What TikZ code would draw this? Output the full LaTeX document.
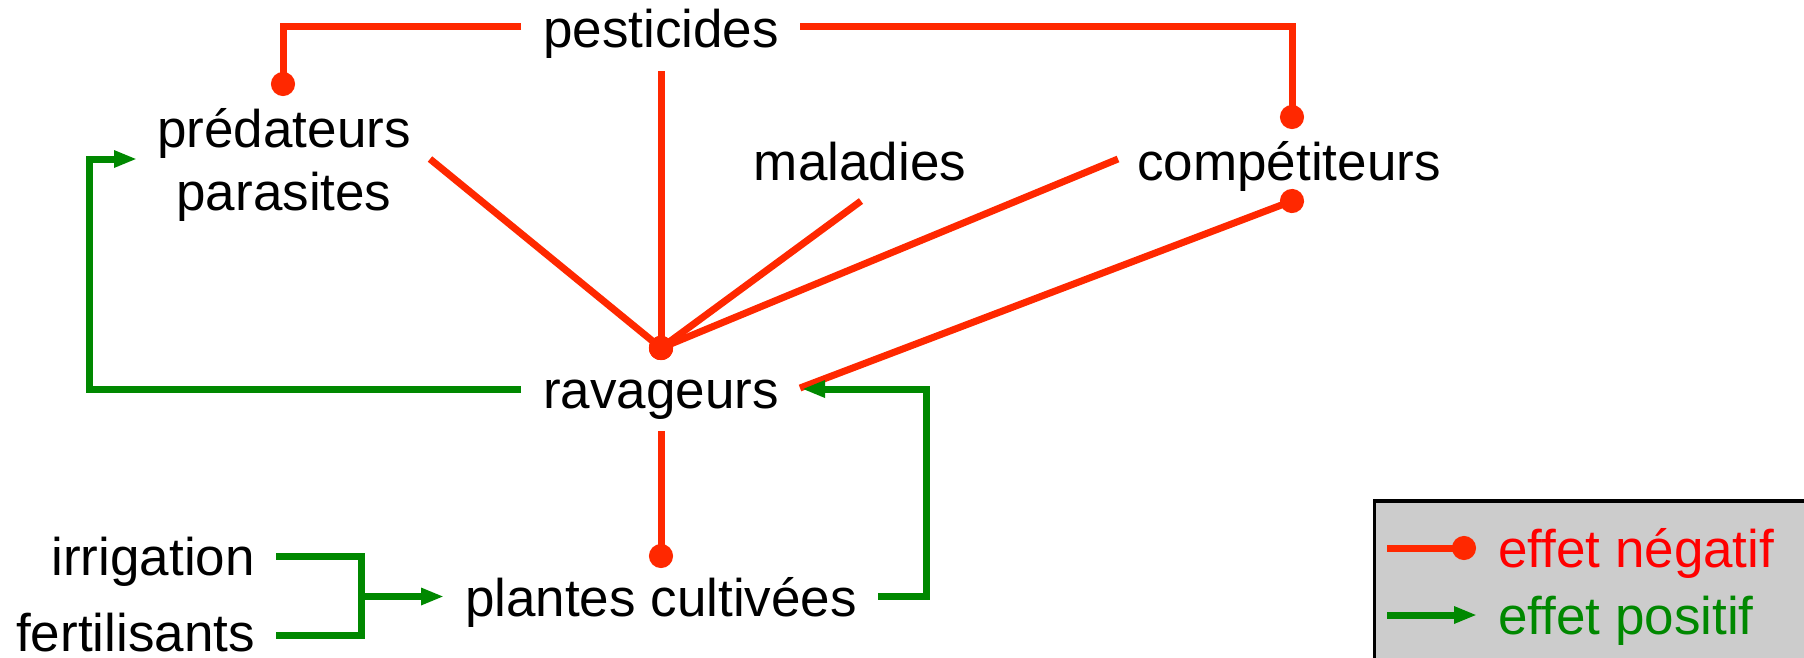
\documentclass[tikz,border=0pt]{standalone}
\usepackage{fontspec}
\setmainfont{Liberation Sans}
\usetikzlibrary{arrows.meta,calc}
\definecolor{negred}{RGB}{255,40,0}
\definecolor{txtred}{RGB}{255,0,0}
\definecolor{posgreen}{RGB}{0,136,0}
\definecolor{legendgray}{RGB}{204,204,204}
\begin{document}
\begin{tikzpicture}[x=1pt,y=-1pt,
  lbl/.style={font=\fontsize{53}{63}\selectfont, inner sep=0pt, anchor=base},
  negarr/.style={draw=negred, line width=7pt, -{Circle[length=24pt,width=24pt]}},
  posarr/.style={draw=posgreen, line width=7pt, -{Triangle[length=23pt,width=16pt]}},
  posline/.style={draw=posgreen, line width=7pt}]
\useasboundingbox (0,0) rectangle (1804,657);

% legend box
\draw[fill=legendgray, line width=3.3pt] (1374.5,501) rectangle (1815,670);

% nodes
\node[lbl] (pest) at (661,47) {pesticides};
\node[lbl,align=center,anchor=center] (pred) at (284,165) {prédateurs\\parasites};
\node[lbl] (mal) at (860,180) {maladies};
\node[lbl] (comp) at (1289,180) {compétiteurs};
\node[lbl] (rav) at (661,408) {ravageurs};
\node[lbl] (plant) at (661,616) {plantes cultivées};
\node[lbl,anchor=base east] (irr) at (255,575) {irrigation};
\node[lbl,anchor=base east] (fert) at (255,651) {fertilisants};

% connector coordinates
\coordinate (pestL) at (521,26.5);
\coordinate (pestR) at (800,26.5);
\coordinate (pestB) at (661,71);
\coordinate (predDot) at (283,84);
\coordinate (compDotT) at (1292,117);
\coordinate (compDotB) at (1292,201);
\coordinate (ravDot) at (661,348);
\coordinate (predR) at (430,159);
\coordinate (malB) at (861,201);
\coordinate (compL) at (1118,159);
\coordinate (ravR) at (800,388);
\coordinate (ravB) at (661,431);
\coordinate (plantDot) at (661,556);
\coordinate (ravGL) at (521,389);
\coordinate (predArr) at (137,159);
\coordinate (plantR) at (878,596.5);
\coordinate (ravArr) at (802,389);
\coordinate (irrR) at (276,556.5);
\coordinate (fertR) at (276,635.5);
\coordinate (joinM) at (361,596.5);
\coordinate (plantArr) at (444,596.5);

% negative effects
\draw[negarr] (pestL) -| ($(predDot)+(0,12)$);
\draw[negarr] (pestR) -| ($(compDotT)+(0,12)$);
\draw[negarr] (pestB) -- ($(ravDot)!-12pt!(pestB)$);
\draw[negarr] (predR) -- ($(ravDot)!-12pt!(predR)$);
\draw[negarr] (malB) -- ($(ravDot)!-12pt!(malB)$);
\draw[negarr] (compL) -- ($(ravDot)!-12pt!(compL)$);
\draw[negarr] (ravR) -- ($(compDotB)!-12pt!(ravR)$);
\draw[negarr] (ravB) -- ($(plantDot)!-12pt!(ravB)$);

% positive effects
\draw[posarr] (ravGL) -| (89.5,159) -- (predArr);
\draw[posarr] (plantR) -| (926.5,389) -- (ravArr);
\draw[posline] (irrR) -| (361,635.5) -- (fertR);
\draw[posarr] (joinM) -- (plantArr);

% legend
\coordinate (lgN1) at (1387,548);
\coordinate (lgN2) at (1476,548);
\coordinate (lgP1) at (1387,615);
\coordinate (lgP2) at (1477,615);
\draw[negarr] (lgN1) -- (lgN2);
\draw[posarr] (lgP1) -- (lgP2);
\node[lbl,anchor=base west,text=txtred] (lneg) at (1498,567) {effet négatif};
\node[lbl,anchor=base west,text=posgreen] (lpos) at (1498,634) {effet positif};
\end{tikzpicture}
\end{document}
